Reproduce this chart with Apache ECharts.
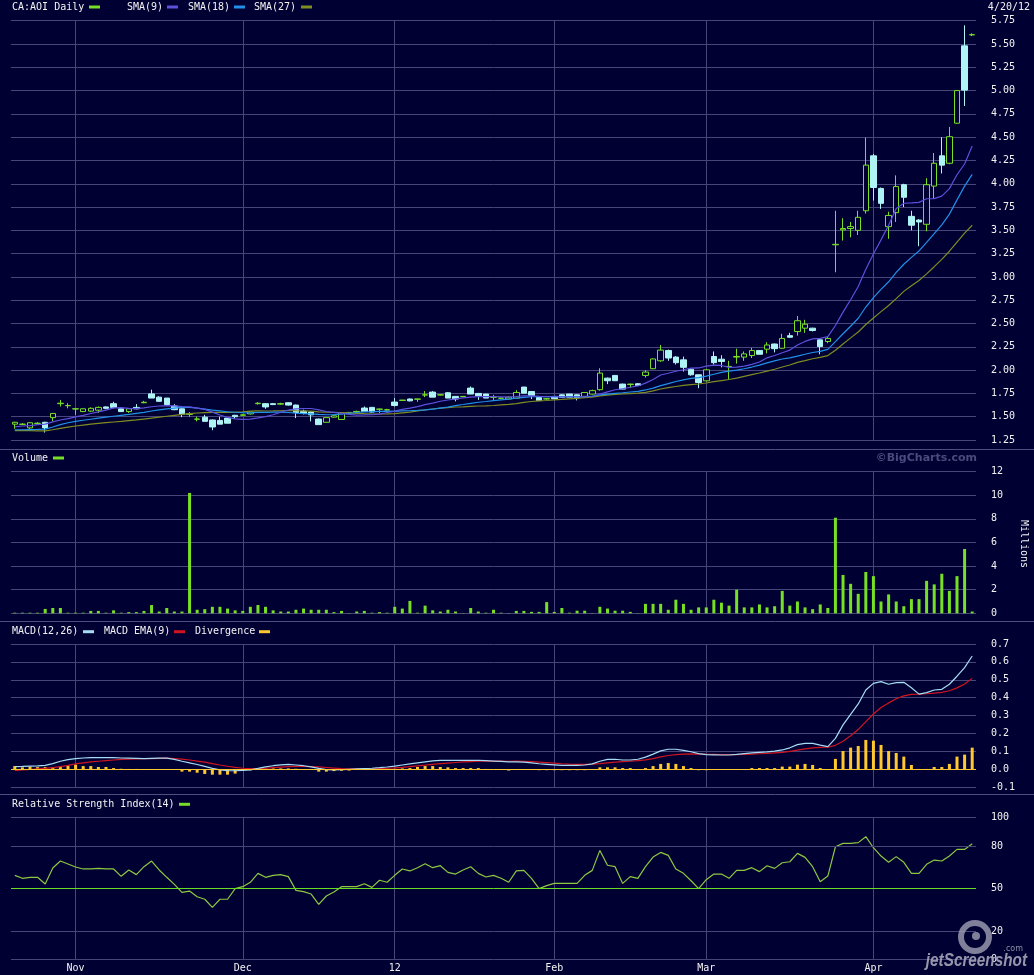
<!DOCTYPE html>
<html><head><meta charset="utf-8">
<script src="https://cdn.jsdelivr.net/npm/echarts@6.0.0/dist/echarts.min.js"></script>
<style>html,body{margin:0;padding:0;background:#000033;}#chart{width:1034px;height:975px;}</style>
</head><body><div id="chart"></div>
<script>
const dates = ["2011-10-20","2011-10-21","2011-10-24","2011-10-25","2011-10-26","2011-10-27","2011-10-28","2011-10-31",
"2011-11-01","2011-11-02","2011-11-03","2011-11-04","2011-11-07","2011-11-08","2011-11-09","2011-11-10","2011-11-11","2011-11-14","2011-11-15","2011-11-16","2011-11-17","2011-11-18","2011-11-21","2011-11-22","2011-11-23","2011-11-24","2011-11-25","2011-11-28","2011-11-29","2011-11-30",
"2011-12-01","2011-12-02","2011-12-05","2011-12-06","2011-12-07","2011-12-08","2011-12-09","2011-12-12","2011-12-13","2011-12-14","2011-12-15","2011-12-16","2011-12-19","2011-12-20","2011-12-21","2011-12-22","2011-12-23","2011-12-28","2011-12-29","2011-12-30",
"2012-01-03","2012-01-04","2012-01-05","2012-01-06","2012-01-09","2012-01-10","2012-01-11","2012-01-12","2012-01-13","2012-01-16","2012-01-17","2012-01-18","2012-01-19","2012-01-20","2012-01-23","2012-01-24","2012-01-25","2012-01-26","2012-01-27","2012-01-30","2012-01-31",
"2012-02-01","2012-02-02","2012-02-03","2012-02-06","2012-02-07","2012-02-08","2012-02-09","2012-02-10","2012-02-13","2012-02-14","2012-02-15","2012-02-16","2012-02-17","2012-02-21","2012-02-22","2012-02-23","2012-02-24","2012-02-27","2012-02-28","2012-02-29",
"2012-03-01","2012-03-02","2012-03-05","2012-03-06","2012-03-07","2012-03-08","2012-03-09","2012-03-12","2012-03-13","2012-03-14","2012-03-15","2012-03-16","2012-03-19","2012-03-20","2012-03-21","2012-03-22","2012-03-23","2012-03-26","2012-03-27","2012-03-28","2012-03-29","2012-03-30",
"2012-04-02","2012-04-03","2012-04-04","2012-04-05","2012-04-09","2012-04-10","2012-04-11","2012-04-12","2012-04-13","2012-04-16","2012-04-17","2012-04-18","2012-04-19","2012-04-20"];

const monthTickDates = ["2011-11-01","2011-12-01","2012-01-03","2012-02-01","2012-03-01","2012-04-02"];
const monthTickLabels = ["Nov","Dec","12","Feb","Mar","Apr"];
const rsiTickValues = [0, 20, 50, 80, 100];

const openP = [1.42,1.418,1.38,1.428,1.44,1.49,1.64,1.618,1.583,1.555,
 1.56,1.57,1.605,1.64,1.585,1.555,1.60,1.65,1.745,1.71,
 1.70,1.615,1.585,1.525,1.473,1.495,1.465,1.46,1.485,1.515,
 1.515,1.53,1.64,1.64,1.64,1.635,1.65,1.625,1.56,1.55,
 1.475,1.44,1.495,1.47,1.54,1.55,1.593,1.60,1.58,1.572,
 1.657,1.675,1.69,1.688,1.733,1.764,1.733,1.757,1.718,1.716,
 1.807,1.75,1.743,1.708,1.698,1.69,1.70,1.818,1.77,1.707,
 1.69,1.718,1.735,1.743,1.735,1.718,1.743,1.79,1.914,1.943,
 1.85,1.845,1.854,1.943,2.015,2.10,2.21,2.14,2.11,2.01,
 1.95,1.885,2.146,2.117,2.038,2.14,2.14,2.157,2.21,2.225,
 2.28,2.235,2.37,2.414,2.45,2.45,2.325,2.307,3.345,3.505,
 3.52,3.50,3.71,4.30,3.95,3.54,3.69,3.99,3.65,3.61,
 3.565,3.975,4.30,4.22,4.65,5.48,5.598];
const highP = [1.445,1.43,1.44,1.44,1.445,1.54,1.68,1.645,1.59,1.59,
 1.60,1.61,1.61,1.66,1.59,1.59,1.635,1.67,1.79,1.72,
 1.70,1.635,1.59,1.55,1.50,1.52,1.47,1.50,1.49,1.52,
 1.53,1.55,1.655,1.645,1.645,1.65,1.655,1.63,1.575,1.555,
 1.48,1.49,1.52,1.545,1.55,1.565,1.61,1.605,1.585,1.585,
 1.70,1.68,1.695,1.69,1.775,1.775,1.74,1.765,1.72,1.72,
 1.825,1.755,1.745,1.735,1.705,1.715,1.785,1.82,1.775,1.71,
 1.70,1.72,1.74,1.745,1.74,1.765,1.79,2.02,1.92,1.945,
 1.855,1.855,1.86,2.00,2.125,2.27,2.22,2.15,2.145,2.02,
 1.95,2.01,2.20,2.16,2.10,2.23,2.20,2.24,2.215,2.30,
 2.285,2.39,2.40,2.58,2.54,2.455,2.33,2.36,3.71,3.63,
 3.59,3.71,4.495,4.32,3.96,3.70,4.09,4.00,3.71,3.62,
 4.06,4.33,4.50,4.61,5.00,5.70,5.615];
const lowP = [1.37,1.41,1.37,1.42,1.33,1.45,1.61,1.59,1.52,1.55,
 1.55,1.54,1.58,1.59,1.55,1.54,1.58,1.645,1.70,1.66,
 1.63,1.57,1.495,1.50,1.45,1.45,1.355,1.42,1.43,1.475,
 1.51,1.525,1.63,1.585,1.625,1.63,1.62,1.485,1.525,1.45,
 1.415,1.44,1.49,1.465,1.535,1.545,1.55,1.545,1.54,1.56,
 1.61,1.67,1.665,1.66,1.71,1.71,1.73,1.70,1.665,1.71,
 1.743,1.68,1.70,1.68,1.695,1.685,1.70,1.753,1.69,1.675,
 1.685,1.69,1.705,1.71,1.675,1.715,1.74,1.78,1.85,1.885,
 1.795,1.81,1.83,1.92,2.01,2.09,2.10,2.06,1.985,1.94,
 1.806,1.88,2.06,2.03,1.895,2.07,2.10,2.13,2.17,2.18,
 2.19,2.23,2.345,2.37,2.40,2.415,2.17,2.29,3.05,3.39,
 3.425,3.45,3.68,3.82,3.73,3.41,3.59,3.75,3.50,3.33,
 3.49,3.84,4.11,4.21,4.645,4.835,5.585];
const closeP = [1.44,1.42,1.435,1.43,1.38,1.535,1.645,1.62,1.585,1.585,
 1.59,1.60,1.59,1.60,1.555,1.585,1.585,1.655,1.70,1.665,
 1.63,1.575,1.525,1.53,1.475,1.45,1.39,1.42,1.43,1.50,
 1.52,1.55,1.645,1.605,1.63,1.64,1.625,1.545,1.535,1.52,
 1.415,1.49,1.51,1.54,1.546,1.557,1.557,1.55,1.582,1.575,
 1.62,1.678,1.67,1.69,1.735,1.71,1.735,1.70,1.69,1.718,
 1.743,1.725,1.70,1.71,1.70,1.71,1.76,1.753,1.728,1.675,
 1.693,1.693,1.707,1.71,1.707,1.76,1.78,1.968,1.886,1.886,
 1.796,1.85,1.836,1.979,2.12,2.215,2.13,2.08,2.03,1.95,
 1.867,2.003,2.08,2.092,2.04,2.146,2.174,2.21,2.17,2.27,
 2.23,2.34,2.353,2.53,2.493,2.425,2.253,2.34,3.35,3.52,
 3.54,3.64,4.20,3.96,3.79,3.66,3.97,3.855,3.555,3.59,
 3.99,4.22,4.20,4.505,5.00,5.005,5.60];

const sma9 = [1.39,1.40,1.405,1.415,1.42,1.445,1.465,1.48,1.499,1.515,
 1.534,1.552,1.57,1.594,1.597,1.59,1.586,1.594,1.607,1.615,
 1.618,1.617,1.608,1.606,1.593,1.578,1.549,1.518,1.492,1.477,
 1.471,1.474,1.487,1.501,1.521,1.549,1.572,1.584,1.588,1.588,
 1.573,1.556,1.546,1.536,1.525,1.518,1.519,1.521,1.527,1.545,
 1.56,1.578,1.593,1.609,1.629,1.646,1.666,1.679,1.692,1.703,
 1.71,1.716,1.717,1.715,1.713,1.711,1.717,1.724,1.725,1.718,
 1.714,1.714,1.713,1.714,1.714,1.714,1.717,1.744,1.767,1.789,
 1.80,1.816,1.83,1.86,1.90,1.948,1.966,1.988,2.004,2.021,
 2.023,2.042,2.053,2.05,2.03,2.032,2.042,2.062,2.087,2.132,
 2.157,2.186,2.215,2.269,2.308,2.336,2.34,2.359,2.479,2.622,
 2.755,2.898,3.083,3.246,3.398,3.554,3.735,3.791,3.795,3.80,
 3.839,3.841,3.868,3.948,4.097,4.212,4.406];
const sma18 = [1.36,1.36,1.362,1.364,1.367,1.39,1.415,1.435,1.45,1.462,
 1.473,1.484,1.495,1.505,1.515,1.525,1.536,1.546,1.561,1.574,
 1.585,1.593,1.601,1.601,1.592,1.582,1.571,1.562,1.553,1.548,
 1.544,1.541,1.546,1.547,1.55,1.549,1.545,1.538,1.533,1.53,
 1.524,1.521,1.523,1.528,1.537,1.545,1.552,1.554,1.558,1.559,
 1.558,1.562,1.564,1.567,1.573,1.582,1.593,1.603,1.619,1.631,
 1.644,1.655,1.663,1.672,1.68,1.688,1.698,1.708,1.714,1.714,
 1.715,1.715,1.714,1.714,1.712,1.716,1.721,1.735,1.743,1.751,
 1.757,1.765,1.772,1.787,1.807,1.833,1.855,1.878,1.896,1.911,
 1.919,1.936,1.956,1.975,1.989,1.999,2.015,2.033,2.054,2.077,
 2.099,2.119,2.132,2.15,2.17,2.189,2.201,2.223,2.305,2.39,
 2.471,2.557,2.677,2.778,2.867,2.948,3.048,3.136,3.21,3.279,
 3.37,3.464,3.559,3.674,3.827,3.975,4.10];
const sma27 = [1.35,1.35,1.35,1.348,1.347,1.36,1.375,1.388,1.40,1.41,
 1.42,1.428,1.436,1.443,1.45,1.458,1.465,1.475,1.485,1.495,
 1.505,1.515,1.525,1.533,1.54,1.544,1.547,1.546,1.547,1.549,
 1.553,1.559,1.563,1.561,1.562,1.564,1.565,1.564,1.561,1.559,
 1.552,1.549,1.547,1.545,1.541,1.536,1.532,1.529,1.529,1.531,
 1.534,1.542,1.55,1.561,1.573,1.583,1.592,1.598,1.604,1.606,
 1.611,1.615,1.617,1.62,1.626,1.632,1.641,1.654,1.663,1.669,
 1.674,1.68,1.685,1.691,1.697,1.704,1.711,1.724,1.732,1.74,
 1.744,1.748,1.753,1.762,1.777,1.797,1.812,1.824,1.836,1.845,
 1.851,1.862,1.876,1.888,1.899,1.914,1.933,1.952,1.969,1.99,
 2.009,2.033,2.055,2.083,2.102,2.122,2.136,2.156,2.213,2.281,
 2.346,2.409,2.49,2.56,2.628,2.694,2.767,2.845,2.905,2.962,
 3.033,3.11,3.189,3.276,3.373,3.47,3.555];

const volumeM = [0.05,0.05,0.05,0.05,0.37,0.45,0.45,0.05,0.05,0.05,
 0.2,0.2,0.05,0.25,0.05,0.1,0.1,0.2,0.7,0.15,
 0.45,0.15,0.15,10.2,0.3,0.35,0.55,0.55,0.4,0.25,
 0.2,0.55,0.7,0.55,0.25,0.15,0.15,0.3,0.4,0.3,
 0.3,0.3,0.1,0.2,0.02,0.15,0.2,0.05,0.1,0.05,
 0.55,0.4,1.05,0.05,0.65,0.25,0.15,0.3,0.15,0.02,
 0.45,0.15,0.05,0.3,0.05,0.02,0.2,0.2,0.12,0.12,
 0.95,0.12,0.45,0.05,0.22,0.22,0.02,0.55,0.4,0.22,
 0.22,0.12,0.02,0.8,0.8,0.8,0.3,1.15,0.8,0.3,
 0.5,0.5,1.15,0.9,0.65,2.0,0.5,0.5,0.75,0.5,
 0.6,1.9,0.65,1.0,0.5,0.35,0.75,0.45,8.1,3.25,
 2.5,1.65,3.5,3.15,1.0,1.6,1.0,0.6,1.2,1.2,
 2.75,2.45,3.35,1.9,3.15,5.45,0.15];

const macdLine = [0.015,0.016,0.018,0.019,0.022,0.032,0.045,0.054,0.06,0.063,
 0.065,0.065,0.065,0.065,0.063,0.062,0.061,0.06,0.061,0.062,
 0.062,0.055,0.045,0.036,0.027,0.016,0.005,-0.003,-0.008,-0.008,
 -0.006,-0.003,0.005,0.014,0.02,0.025,0.027,0.024,0.02,0.014,
 0.005,-0.002,-0.004,-0.002,0.0,0.002,0.004,0.006,0.009,0.013,
 0.018,0.024,0.03,0.036,0.042,0.047,0.05,0.05,0.05,0.05,
 0.05,0.05,0.048,0.046,0.044,0.042,0.041,0.04,0.036,0.031,
 0.028,0.025,0.022,0.022,0.022,0.024,0.03,0.045,0.055,0.056,
 0.052,0.052,0.056,0.068,0.085,0.103,0.112,0.112,0.106,0.098,
 0.088,0.082,0.081,0.08,0.08,0.083,0.088,0.092,0.095,0.097,
 0.102,0.108,0.12,0.138,0.145,0.145,0.135,0.127,0.173,0.248,
 0.307,0.365,0.443,0.48,0.49,0.475,0.484,0.486,0.456,0.42,
 0.428,0.443,0.447,0.475,0.52,0.568,0.633];
const macdSignal = [-0.007,-0.004,-0.001,0.002,0.005,0.009,0.015,0.022,0.03,0.036,
 0.041,0.045,0.049,0.052,0.055,0.057,0.058,0.059,0.06,0.061,
 0.062,0.06,0.057,0.052,0.046,0.04,0.032,0.024,0.017,0.011,
 0.006,0.004,0.004,0.006,0.009,0.012,0.015,0.016,0.016,0.015,
 0.013,0.01,0.007,0.004,0.002,0.002,0.002,0.003,0.004,0.006,
 0.008,0.011,0.015,0.019,0.023,0.028,0.032,0.035,0.038,0.041,
 0.043,0.045,0.046,0.046,0.046,0.045,0.046,0.045,0.043,0.04,
 0.037,0.034,0.031,0.029,0.028,0.028,0.029,0.032,0.036,0.04,
 0.043,0.045,0.049,0.053,0.06,0.069,0.077,0.082,0.085,0.086,
 0.085,0.084,0.083,0.082,0.082,0.082,0.083,0.085,0.087,0.089,
 0.092,0.095,0.1,0.107,0.114,0.12,0.123,0.124,0.134,0.157,
 0.187,0.222,0.266,0.309,0.345,0.371,0.394,0.41,0.419,0.42,
 0.422,0.426,0.43,0.439,0.455,0.477,0.508];
const macdDiv = [0.018,0.011,0.015,0.012,0.012,0.011,0.015,0.022,0.026,0.018,
 0.018,0.013,0.013,0.007,0.003,0.002,0.002,0.001,0.001,0.001,
 0.0,-0.004,-0.013,-0.013,-0.019,-0.026,-0.03,-0.03,-0.03,-0.024,
 -0.007,-0.005,0.001,0.003,0.005,0.005,0.005,0.003,0.001,-0.001,
 -0.013,-0.013,-0.01,-0.008,-0.007,-0.002,0.0,0.001,0.002,0.003,
 0.003,0.005,0.007,0.013,0.018,0.018,0.013,0.011,0.007,0.007,
 0.007,0.007,0.002,0.001,0.0,-0.007,-0.002,-0.002,-0.002,-0.005,
 -0.005,-0.005,-0.005,-0.005,-0.005,-0.005,0.0,0.011,0.011,0.011,
 0.007,0.007,0.001,0.007,0.018,0.03,0.035,0.03,0.018,0.007,
 -0.005,-0.005,0.0,0.0,0.0,0.0,0.001,0.007,0.007,0.007,
 0.007,0.015,0.015,0.026,0.03,0.024,0.007,0.001,0.058,0.102,
 0.121,0.13,0.164,0.16,0.136,0.102,0.091,0.071,0.024,0.002,
 0.002,0.013,0.013,0.03,0.071,0.082,0.121];

const rsi14 = [59.3,57.2,57.9,57.9,53.2,64.5,69.4,67.3,65.2,63.8,
 63.8,64.2,63.8,63.8,58.6,63.1,59.8,65.4,69.4,63.1,
 57.9,52.9,47.3,48.2,44.2,42.4,36.7,42.4,42.4,49.9,
 51.3,54.4,60.7,57.9,59.3,59.8,58.4,48.7,47.8,46.1,
 38.8,44.7,47.5,51.3,51.3,51.3,53.4,50.8,55.8,54.4,
 59.3,63.8,62.4,64.7,67.5,64.7,66.1,61.4,60.2,63.1,
 65.4,60.7,58.1,59.3,57.2,54.4,62.4,62.8,57.2,49.9,
 52.0,53.6,53.6,53.6,53.6,59.3,62.8,76.9,66.4,65.4,
 53.6,58.4,57.2,65.4,72.2,75.5,73.4,63.8,60.7,55.5,
 49.9,56.2,60.2,60.2,57.2,62.8,62.8,64.7,61.9,66.1,
 64.2,68.2,68.9,74.8,72.0,65.4,54.8,58.8,79.5,81.9,
 81.9,82.4,86.6,78.8,72.9,68.5,72.5,68.5,60.7,60.7,
 67.1,70.1,69.4,72.9,77.6,77.6,81.6];

// ---------- styling ----------
const BG = '#000033', GRIDC = '#46467a', SEPC = '#4e4e80', TXT = '#f2f2f2';
const GREEN = '#77e026', CYAN = '#aef4f4';
const FONT = '"DejaVu Sans Mono", monospace';
const FONTSTR = '10px "DejaVu Sans Mono", monospace';

const monthIdx = monthTickDates.map(d => dates.indexOf(d));
const isMonth = i => monthIdx.indexOf(i) >= 0;
const candleData = dates.map((d, i) => [openP[i], closeP[i], lowP[i], highP[i]]);

const gridPos = [
  {top: 20.7, height: 419.3},
  {top: 471.7, height: 141.6},
  {top: 644, height: 143.2},
  {top: 817.7, height: 141.6}
];

function xAx(k) {
  return {
    type: 'category', gridIndex: k, data: dates, boundaryGap: true,
    axisLine: {show: false}, axisTick: {show: false},
    axisLabel: {
      show: k === 3, interval: (i) => isMonth(i),
      formatter: (v) => { const m = monthTickDates.indexOf(v); return m >= 0 ? monthTickLabels[m] : ''; },
      color: TXT, fontFamily: FONT, fontSize: 10, margin: 4
    },
    splitLine: {show: true, interval: (i) => isMonth(i), alignWithLabel: true, lineStyle: {color: GRIDC, width: 1}}
  };
}
function yAx(k, min, max, interval, fmt, split) {
  return {
    type: 'value', gridIndex: k, position: 'right', min: min, max: max, interval: interval, scale: false,
    axisLine: {show: false}, axisTick: {show: false},
    axisLabel: {color: TXT, fontFamily: FONT, fontSize: 10, margin: 15, formatter: fmt},
    splitLine: {show: split, lineStyle: {color: GRIDC, width: 1}}
  };
}

const chart = echarts.init(document.getElementById('chart'), null, {renderer: 'canvas', width: 1034, height: 975});

function legendItem(x, y, label, color, swX) {
  return [
    {type: 'text', x: x, y: y, style: {text: label, fill: TXT, font: FONTSTR, align: 'left', verticalAlign: 'middle'}},
    {type: 'rect', shape: {x: swX, y: y - 1.5, width: 11, height: 3}, style: {fill: color}}
  ];
}
function sep(y) {
  return {type: 'line', shape: {x1: 0, y1: y, x2: 1034, y2: y}, style: {stroke: SEPC, lineWidth: 1}, silent: true};
}

const graphics = [].concat(
  legendItem(12, 7, 'CA:AOI Daily', GREEN, 89),
  legendItem(127, 7, 'SMA(9)', '#5c50dc', 167),
  legendItem(188, 7, 'SMA(18)', '#2090e8', 234),
  legendItem(254, 7, 'SMA(27)', '#7e8c22', 301),
  legendItem(12, 458, 'Volume', GREEN, 53),
  legendItem(12, 631.7, 'MACD(12,26)', '#a6dcf4', 83),
  legendItem(104, 631.7, 'MACD EMA(9)', '#d01420', 174),
  legendItem(195, 631.7, 'Divergence', '#ffc82e', 259),
  legendItem(12, 804.3, 'Relative Strength Index(14)', GREEN, 179),
  [
    {type: 'text', x: 1030, y: 7, style: {text: '4/20/12', fill: TXT, font: FONTSTR, align: 'right', verticalAlign: 'middle'}},
    {type: 'text', x: 977, y: 458, style: {text: '\u00A9BigCharts.com', fill: '#4a4a7e', font: 'bold 11px "DejaVu Sans", sans-serif', align: 'right', verticalAlign: 'middle'}},
    {type: 'text', x: 1024, y: 544, rotation: -Math.PI / 2, style: {text: 'Millions', fill: TXT, font: FONTSTR, align: 'center', verticalAlign: 'middle'}},
    sep(449.5), sep(621.5), sep(794.5),
    {type: 'ring', shape: {cx: 975, cy: 937, r: 17, r0: 11}, style: {fill: 'rgba(160,160,180,0.8)'}, z: 100},
    {type: 'circle', shape: {cx: 976, cy: 936, r: 4}, style: {fill: 'rgba(160,160,180,0.8)'}, z: 100},
    {type: 'text', x: 1027, y: 961, scaleX: 0.85, z: 100, style: {text: 'jetScreenshot', fill: 'rgba(165,165,185,0.9)', font: 'italic bold 18px "Liberation Sans", sans-serif', align: 'right', verticalAlign: 'middle'}},
    {type: 'text', x: 1023, y: 953, z: 100, style: {text: '.com', fill: 'rgba(165,165,185,0.85)', font: '8px "DejaVu Sans", sans-serif', align: 'right', verticalAlign: 'bottom'}}
  ]
);

const option = {
  backgroundColor: BG,
  animation: false,
  textStyle: {fontFamily: FONT},
  grid: gridPos.map(g => ({left: 11, right: 58, top: g.top, height: g.height, containLabel: false, outerBoundsMode: 'none', show: false})),
  xAxis: [xAx(0), xAx(1), xAx(2), xAx(3)],
  yAxis: [
    yAx(0, 1.25, 5.75, 0.25, v => v.toFixed(2), true),
    yAx(1, 0, 12, 2, v => String(Math.round(v)), true),
    yAx(2, -0.1, 0.7, 0.1, v => v.toFixed(1), true),
    yAx(3, 0, 100, 10, v => (rsiTickValues.indexOf(Math.round(v)) >= 0 ? String(Math.round(v)) : ''), false)
  ],
  series: [
    {type: 'candlestick', name: 'CA:AOI Daily', xAxisIndex: 0, yAxisIndex: 0, data: candleData, barWidth: 6, clip: false,
     itemStyle: {color: BG, color0: CYAN, borderColor: GREEN, borderColor0: CYAN, borderWidth: 1}, z: 3},
    {type: 'line', name: 'SMA(27)', xAxisIndex: 0, yAxisIndex: 0, data: sma27, symbol: 'none', lineStyle: {color: '#7e8c22', width: 1.2}, z: 4},
    {type: 'line', name: 'SMA(18)', xAxisIndex: 0, yAxisIndex: 0, data: sma18, symbol: 'none', lineStyle: {color: '#2090e8', width: 1.2}, z: 4},
    {type: 'line', name: 'SMA(9)', xAxisIndex: 0, yAxisIndex: 0, data: sma9, symbol: 'none', lineStyle: {color: '#5c50dc', width: 1.2}, z: 4},
    {type: 'bar', name: 'Volume', xAxisIndex: 1, yAxisIndex: 1, data: volumeM, barWidth: 3, itemStyle: {color: GREEN}},
    {type: 'bar', name: 'Divergence', xAxisIndex: 2, yAxisIndex: 2, data: macdDiv, barWidth: 3, itemStyle: {color: '#ffc82e'},
     markLine: {silent: true, symbol: 'none', label: {show: false}, lineStyle: {type: 'solid', color: '#ffc82e', width: 1}, data: [{yAxis: 0}]}},
    {type: 'line', name: 'MACD EMA(9)', xAxisIndex: 2, yAxisIndex: 2, data: macdSignal, symbol: 'none', lineStyle: {color: '#d01420', width: 1.2}},
    {type: 'line', name: 'MACD(12,26)', xAxisIndex: 2, yAxisIndex: 2, data: macdLine, symbol: 'none', lineStyle: {color: '#a6dcf4', width: 1.2}},
    {type: 'line', name: 'RSI(14)', xAxisIndex: 3, yAxisIndex: 3, data: rsi14, symbol: 'none', lineStyle: {color: '#8cc840', width: 1.2},
     markLine: {silent: true, symbol: 'none', label: {show: false}, lineStyle: {type: 'solid', color: GRIDC, width: 1},
       data: [{yAxis: 100}, {yAxis: 80}, {yAxis: 20}, {yAxis: 0}, {yAxis: 50, lineStyle: {type: 'solid', color: '#66dd22', width: 1}}]}}
  ],
  graphic: graphics
};
chart.setOption(option);
</script>
</body></html>
